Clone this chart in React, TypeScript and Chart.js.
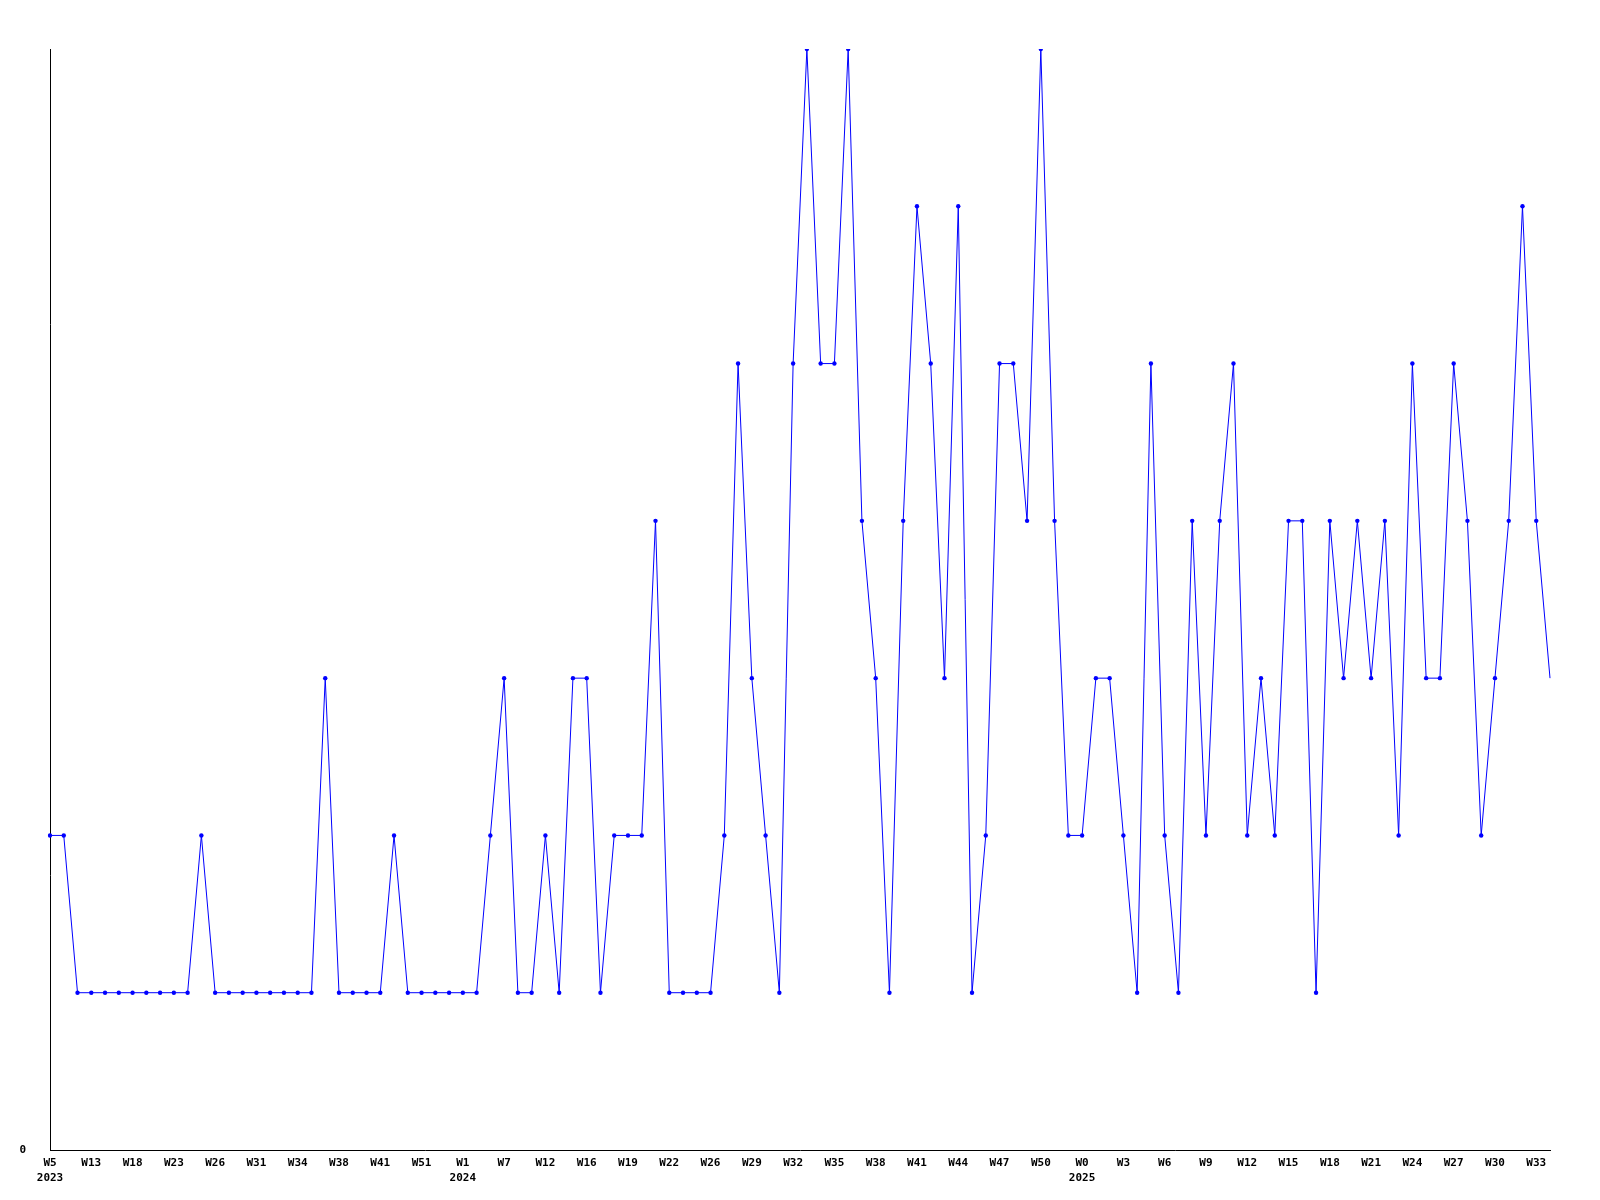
import React, { useEffect, useRef } from "react";
import { Chart, registerables } from "chart.js";

Chart.register(...registerables);

const weeks2023 = ["W5","W8","W10","W13","W15","W16","W18","W20","W21","W23","W24","W25","W26","W28","W30","W31","W32","W33","W34","W35","W37","W38","W39","W40","W41","W44","W48","W51","W52","W53"];
const weeks2024 = ["W1","W3","W5","W7","W9","W10","W12","W13","W15","W16","W17","W18","W19","W20","W21","W22","W23","W25","W26","W27","W28","W29","W30","W31","W32","W33","W34","W35","W36","W37","W38","W39","W40","W41","W42","W43","W44","W45","W46","W47","W48","W49","W50","W51","W52"];
const weeks2025 = ["W0","W1","W2","W3","W4","W5","W6","W7","W8","W9","W10","W11","W12","W13","W14","W15","W16","W17","W18","W19","W20","W21","W22","W23","W24","W25","W26","W27","W28","W29","W30","W31","W32","W33","W34"];
const years = ["2023", "2024", "2025"];

const values2023 = [2,2,1,1,1,1,1,1,1,1, 1,2,1,1,1,1,1,1,1,1, 3,1,1,1,1,2,1,1,1,1];
const values2024 = [1,1,2,3,1,1,2,1,3,3, 1,2,2,2,4,1,1,1,1,2, 5,3,2,1,5,7,5,5,7,4, 3,1,4,6,5,3,6,1,2,5, 5,4,7,4,2];
const values2025 = [2,3,3,2,1, 5,2,1,4,2,4,5,2,3,2, 4,4,1,4,3,4,3,4,2,5, 3,3,5,4,2,3,4,6,4,3];

const yTickLabels = ["0"];

export default function App() {
  const ref = useRef<HTMLCanvasElement | null>(null);

  useEffect(() => {
    if (!ref.current) return;
    const labels = [...weeks2023, ...weeks2024, ...weeks2025];
    const data = [...values2023, ...values2024, ...values2025];
    const yearStart: Record<number, string> = {
      0: years[0],
      [weeks2023.length]: years[1],
      [weeks2023.length + weeks2024.length]: years[2],
    };
    const last = data.length - 1;
    const font = { family: "'DejaVu Sans Mono', monospace", size: 11, weight: "bold" as const, lineHeight: 1.36 };

    const chart = new Chart(ref.current, {
      type: "line",
      data: {
        labels,
        datasets: [
          {
            data,
            borderColor: "#0000ff",
            backgroundColor: "#0000ff",
            borderWidth: 1,
            pointRadius: (c: any) => (c.dataIndex === last ? 0 : 2.2),
            pointHoverRadius: 2.2,
            pointBorderWidth: 0,
            pointBackgroundColor: "#0000ff",
            tension: 0,
            fill: false,
          },
        ],
      },
      options: {
        animation: false,
        responsive: false,
        maintainAspectRatio: false,
        layout: { padding: { left: 0, right: 50, top: 49, bottom: 0 } },
        plugins: { legend: { display: false }, tooltip: { enabled: false }, title: { display: false } },
        scales: {
          x: {
            type: "category",
            offset: false,
            grid: { display: false, drawTicks: false },
            border: { display: true, color: "#000000", width: 1 },
            ticks: {
              autoSkip: false,
              maxRotation: 0,
              minRotation: 0,
              padding: 6,
              color: "#000000",
              font,
              callback: (_v: any, i: number) => {
                if (i % 3 !== 0) return "";
                const w = labels[i];
                return yearStart[i] ? [w, yearStart[i]] : w;
              },
            },
            afterFit: (s: any) => {
              s.height = 50;
            },
          },
          y: {
            min: 0,
            max: 7,
            grid: { display: false, drawTicks: false },
            border: { display: true, color: "#000000", width: 1 },
            ticks: {
              stepSize: 1,
              padding: 24,
              color: "#000000",
              font,
              callback: (v: any) => (yTickLabels.includes(String(v)) ? String(v) : ""),
            },
            afterFit: (s: any) => {
              s.width = 50;
            },
          },
        },
      },
    });
    return () => chart.destroy();
  }, []);

  return (
    <div style={{ position: "absolute", left: 0, top: 0, width: 1600, height: 1200, background: "#fff" }}>
      <canvas ref={ref} width={1600} height={1200} style={{ display: "block", width: 1600, height: 1200 }} />
    </div>
  );
}
